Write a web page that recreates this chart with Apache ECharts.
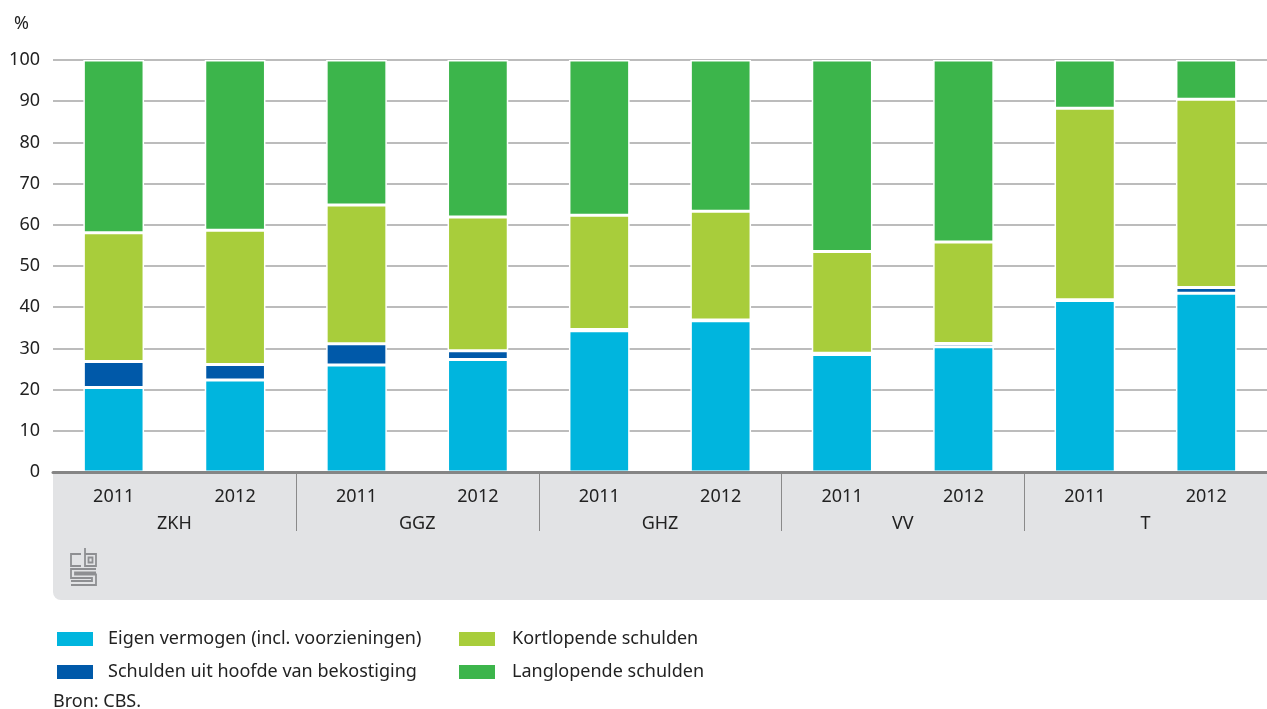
<!DOCTYPE html>
<html>
<head>
<meta charset="utf-8">
<style>
  html, body { margin: 0; padding: 0; background: #fff; }
  #chart { width: 1267px; height: 709px; }
</style>
<script src="https://cdn.jsdelivr.net/npm/echarts@6/dist/echarts.min.js"></script>
</head>
<body>
<div id="chart"></div>
<script>
// categories: two years per sector
const years = ['2011', '2012', '2011', '2012', '2011', '2012', '2011', '2012', '2011', '2012'];
const sectors = ['ZKH', 'GGZ', 'GHZ', 'VV', 'T'];

// shares in %
const eigenVermogen = [20.5, 22.3, 26.0, 27.3, 34.3, 36.7, 28.5, 30.4, 41.6, 43.4];
const schuldenBekostiging = [6.3, 3.8, 5.1, 2.1, 0.3, 0.2, 0.3, 0.8, 0.2, 1.4];
const kortlopend = [31.3, 32.6, 33.7, 32.5, 27.7, 26.4, 24.7, 24.6, 46.5, 45.7];
const langlopend = [41.9, 41.3, 35.2, 38.1, 37.7, 36.7, 46.5, 44.2, 11.7, 9.5];

const seriesNames = [
  'Eigen vermogen (incl. voorzieningen)',
  'Schulden uit hoofde van bekostiging',
  'Kortlopende schulden',
  'Langlopende schulden'
];
const colors = ['#00b5de', '#0059a9', '#a8cd3b', '#3cb54b'];

const font = '"Noto Sans", "Open Sans", sans-serif';
const textColor = '#222';
const fontSize = 18;

const chart = echarts.init(document.getElementById('chart'));

const barSeries = (name, data, color) => ({
  name,
  type: 'bar',
  stack: 'total',
  data,
  barWidth: '50%',
  itemStyle: { color, borderColor: '#fff', borderWidth: 1.5 }
});

const legendBlock = (names, left, gap) => ({
  data: names,
  orient: 'vertical',
  left,
  top: 630,
  padding: 0,
  itemWidth: 38,
  itemHeight: 16,
  itemGap: 15,
  icon: 'rect',
  selectedMode: false,
  textStyle: { fontSize, color: textColor, fontFamily: font, padding: [0, 0, 0, gap] }
});

// cbs logo, drawn in grey strokes
const logoStroke = { stroke: '#8e8f92', lineWidth: 1.8, fill: null };
const logo = [
  { type: 'polyline', shape: { points: [[81, 554], [71, 554], [71, 566], [81, 566]] }, style: logoStroke },
  { type: 'polyline', shape: { points: [[85, 548], [85, 566], [96, 566], [96, 554], [85, 554]] }, style: logoStroke },
  { type: 'rect', shape: { x: 88.5, y: 557.5, width: 4, height: 5 }, style: logoStroke },
  { type: 'polyline', shape: { points: [[96, 569], [71, 569], [71, 578], [92, 578], [92, 581], [71, 581]] }, style: logoStroke },
  { type: 'polyline', shape: { points: [[96, 572.5], [75, 572.5], [75, 574.5], [96, 574.5], [96, 585], [71, 585]] }, style: logoStroke }
];

chart.setOption({
  animation: false,
  textStyle: { fontFamily: font },
  color: colors,
  title: {
    text: '%',
    left: 9,
    top: 10,
    textStyle: { fontSize, fontWeight: 'normal', color: textColor, fontFamily: font }
  },
  grid: { left: 53, right: -3, top: 60, bottom: 237 },
  legend: [
    legendBlock([seriesNames[0], seriesNames[1]], 55, 9),
    legendBlock([seriesNames[2], seriesNames[3]], 457, 11)
  ],
  xAxis: [
    {
      type: 'category',
      data: years,
      axisLine: { lineStyle: { color: '#858585', width: 3 } },
      axisTick: { show: false },
      axisLabel: { fontSize, color: textColor, margin: 16, fontFamily: font },
      z: 5
    },
    {
      type: 'category',
      data: sectors,
      position: 'bottom',
      offset: 27,
      axisLine: { show: false },
      axisTick: { show: false },
      axisLabel: { fontSize, color: textColor, margin: 16, fontFamily: font }
    }
  ],
  yAxis: {
    type: 'value',
    min: 0,
    max: 100,
    interval: 10,
    axisLine: { show: false },
    axisTick: { show: false },
    axisLabel: { fontSize, color: textColor, margin: 13, fontFamily: font },
    splitLine: { lineStyle: { color: '#a6a6a6', width: 1.5 } }
  },
  series: [
    barSeries(seriesNames[0], eigenVermogen, colors[0]),
    barSeries(seriesNames[1], schuldenBekostiging, colors[1]),
    barSeries(seriesNames[2], kortlopend, colors[2]),
    barSeries(seriesNames[3], langlopend, colors[3])
  ]
});

// grey band under the axis, separators between sectors, logo and source
const axisY = chart.convertToPixel({ yAxisIndex: 0 }, 0);
const separators = [];
for (let i = 2; i < years.length; i += 2) {
  const x = (chart.convertToPixel({ xAxisIndex: 0 }, i - 1) + chart.convertToPixel({ xAxisIndex: 0 }, i)) / 2;
  separators.push({
    type: 'line',
    shape: { x1: Math.round(x) + 0.5, y1: axisY + 2, x2: Math.round(x) + 0.5, y2: axisY + 59 },
    style: { stroke: '#8a8a8a', lineWidth: 1 },
    z: -1
  });
}

chart.setOption({
  graphic: [
    {
      type: 'rect',
      shape: { x: 53, y: axisY, width: 1214, height: 128, r: [0, 0, 0, 8] },
      style: { fill: '#e2e3e5' },
      z: -10
    },
    ...separators,
    ...logo,
    {
      type: 'text',
      left: 53,
      top: 693,
      style: { text: 'Bron: CBS.', fontSize, fill: textColor, fontFamily: font }
    }
  ]
});
</script>
</body>
</html>
